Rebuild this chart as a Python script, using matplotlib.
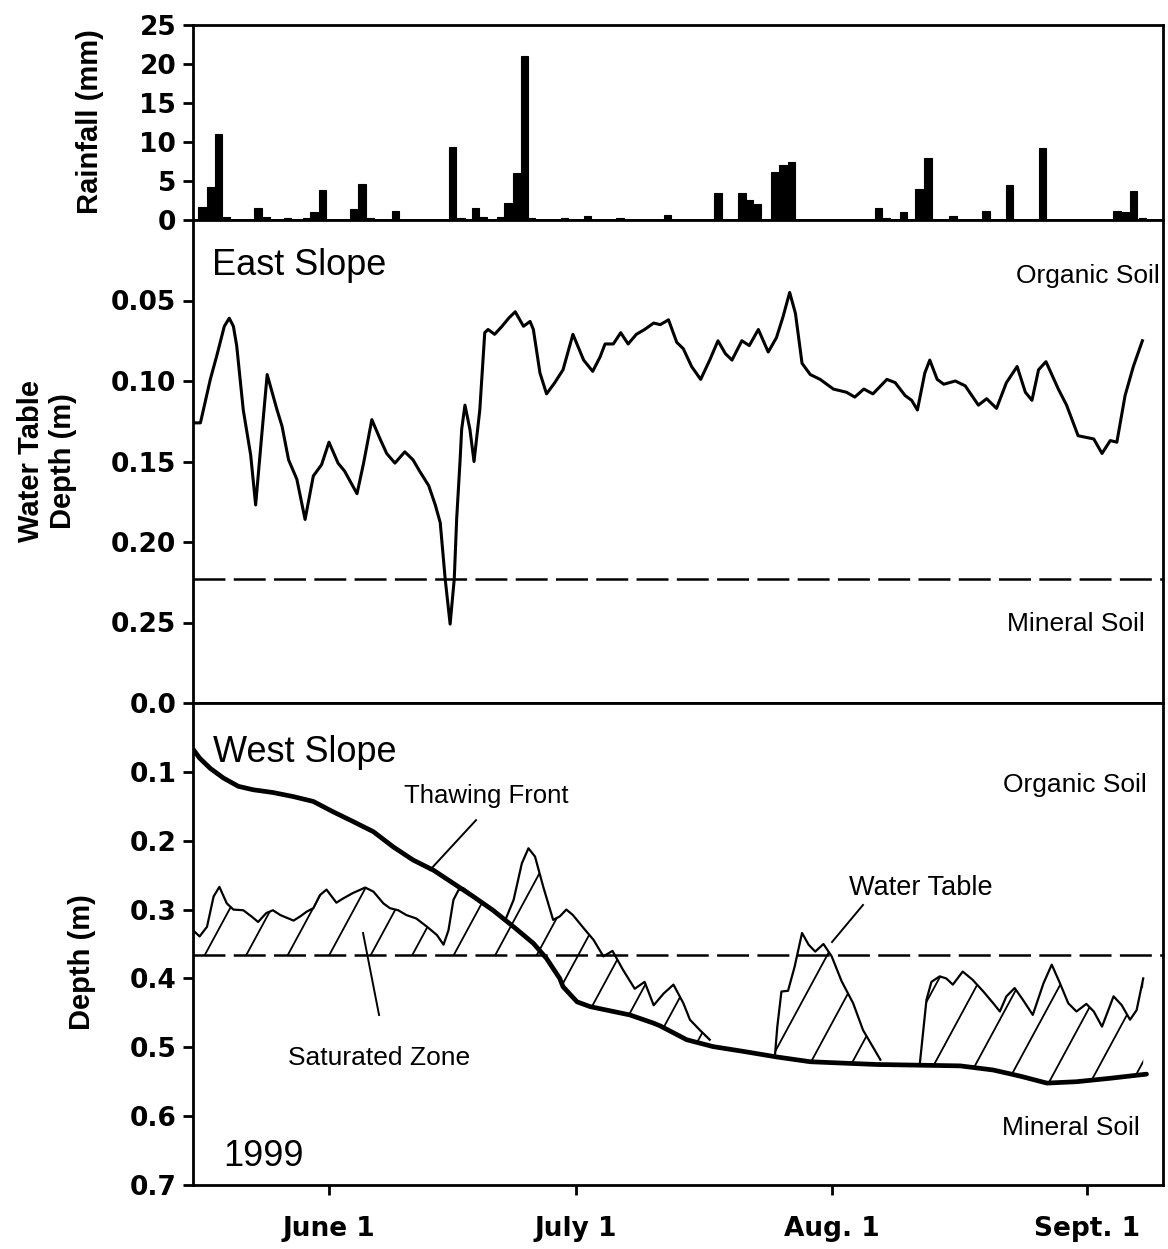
import numpy as np
import matplotlib
matplotlib.use("Agg")
import matplotlib.pyplot as plt
from matplotlib.path import Path
from matplotlib.collections import LineCollection

# ---------------------------------------------------------------- data
# Daily rainfall (day of year, mm)
rain_day = [136.6, 137.7, 138.6, 139.6, 143.4, 144.4, 147.0, 149.3, 150.2, 151.2,
            155.0, 156.0, 157.0, 160.1, 167.0, 168.0, 169.8, 170.7, 172.8, 173.7,
            174.8, 175.7, 176.6, 180.6, 183.4, 187.3, 193.1, 199.2, 202.1, 203.0,
            204.0, 206.1, 207.1, 208.1, 218.7, 219.6, 221.7, 223.6, 224.7, 227.7,
            231.7, 234.6, 238.6, 247.6, 248.6, 249.6, 250.7]
rain_mm = [1.7, 4.2, 11.0, 0.4, 1.5, 0.4, 0.2, 0.3, 1.0, 3.8,
           1.4, 4.6, 0.2, 1.2, 9.4, 0.3, 1.6, 0.4, 0.4, 2.2,
           6.0, 21.0, 0.2, 0.2, 0.5, 0.2, 0.6, 3.4, 3.5, 2.6,
           2.0, 6.2, 7.0, 7.4, 1.6, 0.2, 1.0, 4.0, 8.0, 0.5,
           1.1, 4.5, 9.2, 1.2, 1.0, 3.7, 0.3]

# East slope water table depth (m)
east_day = [135.7, 136.4, 137.6, 138.4, 139.3, 139.9, 140.4, 140.8, 141.6, 142.5,
            143.1, 143.8, 144.5, 145.7, 146.3, 147.1, 148.1, 149.1, 150.1, 151.1,
            152.0, 153.1, 153.9, 155.4, 156.2, 157.2, 158.2, 159.0, 160.0, 161.2,
            162.2, 163.0, 164.1, 164.9, 165.5, 166.1, 166.7, 167.2, 167.5, 167.9,
            168.1, 168.5, 169.1, 169.6, 170.3, 170.9, 171.3, 172.1, 173.0, 173.8,
            174.6, 175.6, 176.4, 176.8, 177.6, 178.4, 179.4, 180.4, 181.6, 182.9,
            184.0, 184.9, 185.5, 186.5, 187.4, 188.3, 189.3, 190.3, 191.4, 192.2,
            193.2, 194.2, 195.0, 196.0, 197.1, 198.2, 199.2, 200.1, 200.9, 202.1,
            203.0, 204.1, 205.3, 206.3, 207.1, 207.9, 208.6, 209.4, 210.4, 211.6,
            213.2, 214.8, 215.8, 216.9, 218.0, 219.7, 220.7, 221.9, 222.7, 223.4,
            224.3, 224.9, 225.8, 226.6, 228.0, 229.2, 230.8, 231.8, 233.0, 234.2,
            235.5, 236.5, 237.3, 238.1, 239.0, 240.5, 241.5, 242.9, 244.8, 245.8,
            246.8, 247.6, 248.6, 249.6, 250.7]
east_depth = [0.126, 0.126, 0.099, 0.084, 0.066, 0.061, 0.066, 0.078, 0.118, 0.146,
              0.177, 0.136, 0.096, 0.118, 0.128, 0.149, 0.161, 0.186, 0.159, 0.152,
              0.138, 0.151, 0.156, 0.170, 0.151, 0.124, 0.136, 0.145, 0.151, 0.144,
              0.149, 0.156, 0.165, 0.177, 0.188, 0.223, 0.251, 0.223, 0.185, 0.150,
              0.130, 0.115, 0.130, 0.150, 0.118, 0.070, 0.068, 0.071, 0.066, 0.061,
              0.057, 0.066, 0.063, 0.068, 0.095, 0.108, 0.101, 0.093, 0.071, 0.087,
              0.094, 0.085, 0.077, 0.077, 0.070, 0.077, 0.071, 0.068, 0.064, 0.065,
              0.062, 0.076, 0.080, 0.091, 0.099, 0.087, 0.075, 0.083, 0.087, 0.075,
              0.078, 0.068, 0.082, 0.073, 0.060, 0.045, 0.058, 0.089, 0.096, 0.099,
              0.105, 0.107, 0.110, 0.105, 0.108, 0.099, 0.101, 0.109, 0.112, 0.118,
              0.095, 0.087, 0.099, 0.102, 0.100, 0.103, 0.115, 0.111, 0.117, 0.101,
              0.091, 0.107, 0.112, 0.093, 0.088, 0.105, 0.115, 0.134, 0.136, 0.145,
              0.137, 0.138, 0.109, 0.091, 0.075]
east_boundary = 0.223

# West slope thawing front depth (m)
thaw_day = [135.5, 136.3, 137.6, 139.2, 141.0, 142.8, 145.2, 147.7, 150.1, 152.5,
            154.9, 157.4, 159.8, 162.2, 164.7, 167.1, 169.5, 171.9, 174.4, 176.8,
            178.4, 180.0, 180.4, 182.1, 183.7, 186.5, 188.5, 191.4, 192.2, 195.4,
            198.6, 202.3, 206.3, 210.4, 214.4, 218.5, 223.7, 228.6, 232.6, 235.9,
            239.1, 242.7, 246.8, 251.2]
thaw_depth = [0.067, 0.080, 0.095, 0.109, 0.121, 0.126, 0.130, 0.136, 0.143, 0.158,
              0.172, 0.187, 0.209, 0.228, 0.243, 0.262, 0.281, 0.301, 0.325, 0.349,
              0.371, 0.400, 0.412, 0.434, 0.441, 0.448, 0.453, 0.465, 0.469, 0.489,
              0.499, 0.506, 0.514, 0.521, 0.523, 0.525, 0.526, 0.527, 0.533, 0.542,
              0.552, 0.550, 0.545, 0.539]

# West slope water table depth (m), three measured periods
wt1_day = [135.5, 136.3, 137.2, 138.0, 138.7, 139.6, 140.4, 141.6, 142.6, 143.4,
           144.4, 145.2, 146.1, 147.7, 148.5, 149.3, 150.1, 150.9, 151.7, 152.9,
           153.7, 154.9, 156.4, 157.4, 158.6, 159.4, 160.4, 161.4, 162.6, 163.9,
           165.1, 165.9, 166.5, 167.1, 167.7, 168.3, 169.1, 170.3, 171.9, 173.4,
           174.4, 175.4, 176.2, 177.0, 178.0, 179.2, 180.0, 180.8, 181.6, 182.9,
           184.1, 185.3, 186.4, 187.7, 189.1, 190.3, 191.4, 192.6, 193.8, 195.0,
           195.8, 197.0, 198.2]
wt1_depth = [0.330, 0.339, 0.325, 0.281, 0.267, 0.291, 0.300, 0.301, 0.310, 0.318,
             0.305, 0.301, 0.308, 0.316, 0.310, 0.303, 0.298, 0.279, 0.271, 0.290,
             0.284, 0.276, 0.268, 0.274, 0.291, 0.298, 0.301, 0.308, 0.313, 0.325,
             0.337, 0.351, 0.330, 0.286, 0.272, 0.269, 0.276, 0.289, 0.301, 0.315,
             0.286, 0.233, 0.211, 0.223, 0.267, 0.315, 0.310, 0.300, 0.308, 0.327,
             0.344, 0.368, 0.360, 0.388, 0.415, 0.405, 0.439, 0.422, 0.409, 0.436,
             0.460, 0.475, 0.489]
wt2_day = [206.1, 206.4, 206.9, 207.7, 208.5, 209.4, 210.2, 211.0, 212.0, 213.0,
           214.2, 215.6, 216.8, 218.9]
wt2_depth = [0.514, 0.470, 0.419, 0.418, 0.383, 0.334, 0.351, 0.361, 0.350, 0.368,
             0.404, 0.436, 0.475, 0.518]
wt3_day = [223.7, 224.5, 225.1, 226.1, 226.9, 227.7, 228.9, 230.1, 231.4, 232.6,
           233.4, 234.2, 235.2, 236.2, 237.4, 238.7, 239.7, 240.7, 241.7, 242.7,
           243.9, 244.8, 245.8, 247.2, 248.2, 249.2, 250.0, 250.8]
wt3_depth = [0.523, 0.431, 0.405, 0.397, 0.400, 0.409, 0.390, 0.402, 0.419, 0.436,
             0.448, 0.426, 0.414, 0.431, 0.453, 0.407, 0.380, 0.407, 0.436, 0.448,
             0.437, 0.448, 0.470, 0.426, 0.439, 0.460, 0.446, 0.400]
west_boundary = 0.366

month_days = [152, 182, 213, 244]
month_labels = ["June 1", "July 1", "Aug. 1", "Sept. 1"]
rain_ticks = [0, 5, 10, 15, 20, 25]
east_ticks = [0.05, 0.10, 0.15, 0.20, 0.25]
west_ticks = [0.0, 0.1, 0.2, 0.3, 0.4, 0.5, 0.6, 0.7]

# ---------------------------------------------------------------- style
TXT = "Liberation Sans"
TICKFONT = dict(family="DejaVu Sans", weight="bold", size=19)
plt.rcParams["lines.scale_dashes"] = False
DASH = (23, 6)

W, H = 1168, 1249
fig = plt.figure(figsize=(W / 100, H / 100), dpi=100)
left, width = 193 / W, 970 / W
ax1 = fig.add_axes([left, 1 - 220 / H, width, 195 / H])
ax2 = fig.add_axes([left, 1 - 703 / H, width, 483 / H])
ax3 = fig.add_axes([left, 1 - 1185 / H, width, 482 / H])

xlim = (135.5, 253.2)
for ax in (ax1, ax2, ax3):
    ax.set_xlim(*xlim)
    for s in ax.spines.values():
        s.set_linewidth(2.0)
    ax.tick_params(direction="out", length=7, width=2, pad=5)

# ---- rainfall
ax1.bar(rain_day, rain_mm, width=0.9, color="black", edgecolor="black", linewidth=0.8)
ax1.set_ylim(0, 25)
ax1.set_yticks(rain_ticks)
ax1.set_yticklabels([str(t) for t in rain_ticks], **TICKFONT)
ax1.set_xticks(np.arange(140.5, 245, 19.6))
ax1.set_xticklabels([])

# ---- east slope
ax2.plot(east_day, east_depth, color="black", lw=2.2, solid_joinstyle="round")
ax2.axhline(east_boundary, color="black", lw=1.8, dashes=DASH)
ax2.set_ylim(0.30, 0.0)
ax2.set_yticks(east_ticks)
ax2.set_yticklabels([f"{t:.2f}" for t in east_ticks], **TICKFONT)
ax2.set_xticks(month_days)
ax2.set_xticklabels([])
ax2.text(0.0196, 0.886, "East Slope", transform=ax2.transAxes, family=TXT,
         fontsize=26, ha="left", va="baseline")
ax2.text(0.997, 0.870, "Organic Soil", transform=ax2.transAxes, family=TXT,
         fontsize=19, ha="right", va="baseline")
ax2.text(0.981, 0.149, "Mineral Soil", transform=ax2.transAxes, family=TXT,
         fontsize=19, ha="right", va="baseline")

# ---- west slope
ax3.set_ylim(0.7, 0.0)
ax3.axhline(west_boundary, color="black", lw=1.8, dashes=DASH)

thaw_x = np.asarray(thaw_day)
thaw_y = np.asarray(thaw_depth)

# hatch lines for the saturated zone, clipped to each water-table period
slope_px = 1.85
ax_w_px, ax_h_px = 970.0, 482.0
run = (ax_h_px / slope_px) / ax_w_px
step = 41.5 / ax_w_px
starts = np.arange(-0.116 - 10 * step, 1.05, step)
hatch_segs = [[(c, 0.0), (c + run, 1.0)] for c in starts]

for d, w in ((wt1_day, wt1_depth), (wt2_day, wt2_depth), (wt3_day, wt3_depth)):
    d = np.asarray(d)
    w = np.asarray(w)
    lower = np.maximum(np.interp(d, thaw_x, thaw_y), west_boundary)
    upper = np.minimum(w, lower)
    verts = np.concatenate([np.column_stack([d, upper]),
                            np.column_stack([d[::-1], lower[::-1]])])
    clip = Path(verts)
    lc = LineCollection(hatch_segs, transform=ax3.transAxes, colors="black",
                        linewidths=1.3)
    ax3.add_collection(lc, autolim=False)
    lc.set_clip_path(clip, ax3.transData)
    ax3.plot(d, w, color="black", lw=1.6, solid_joinstyle="round")

ax3.plot(thaw_x, thaw_y, color="black", lw=3.4, solid_capstyle="round",
         solid_joinstyle="round")

ax3.set_yticks(west_ticks)
ax3.set_yticklabels([f"{t:.1f}" for t in west_ticks], **TICKFONT)
ax3.set_xticks(month_days)
ax3.set_xticklabels(month_labels, **TICKFONT)
ax3.tick_params(axis="x", pad=15)
ax3.set_xlim(*xlim)

ax3.text(0.0206, 0.878, "West Slope", transform=ax3.transAxes, family=TXT,
         fontsize=26, ha="left", va="baseline")
ax3.text(0.9835, 0.815, "Organic Soil", transform=ax3.transAxes, family=TXT,
         fontsize=19, ha="right", va="baseline")
ax3.text(0.2175, 0.7925, "Thawing Front", transform=ax3.transAxes, family=TXT,
         fontsize=18.5, ha="left", va="baseline")
ax3.text(0.6763, 0.6017, "Water Table", transform=ax3.transAxes, family=TXT,
         fontsize=19.5, ha="left", va="baseline")
ax3.text(0.0979, 0.249, "Saturated Zone", transform=ax3.transAxes, family=TXT,
         fontsize=19, ha="left", va="baseline")
ax3.text(0.9763, 0.1037, "Mineral Soil", transform=ax3.transAxes, family=TXT,
         fontsize=19, ha="right", va="baseline")
ax3.text(0.0309, 0.0394, "1999", transform=ax3.transAxes, family=TXT,
         fontsize=26, ha="left", va="baseline")

# leader lines from labels to features
for (x0, y0), (x1, y1) in (((0.2918, 0.757), (0.2443, 0.6535)),
                           ((0.6907, 0.581), (0.6588, 0.5041)),
                           ((0.1753, 0.5228), (0.1918, 0.3527))):
    ax3.plot([x0, x1], [y0, y1], color="black", lw=1.4, transform=ax3.transAxes)

# axis titles
LAB = dict(family=TXT, weight="bold", fontsize=21, rotation=90,
           ha="center", va="center")
fig.text(90 / W, 1 - 122 / H, "Rainfall (mm)", **LAB)
fig.text(47 / W, 1 - 461 / H, "Water Table\nDepth (m)", linespacing=1.15, **LAB)
fig.text(82 / W, 1 - 962 / H, "Depth (m)", **LAB)

fig.savefig("out.png", dpi=100, facecolor="white")
